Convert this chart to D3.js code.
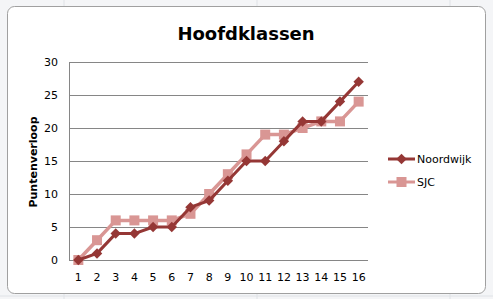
<!DOCTYPE html>
<html><head><meta charset="utf-8">
<script src="https://cdn.jsdelivr.net/npm/d3@7"></script>
<style>body{margin:0;background:#eceef1;}svg{display:block;}</style>
</head><body>
<svg id="c" width="493" height="299"></svg>
<script>
const categories = ["1","2","3","4","5","6","7","8","9","10","11","12","13","14","15","16"];
const noordwijk = [0,1,4,4,5,5,8,9,12,15,15,18,21,21,24,27];
const sjc = [0,3,6,6,6,6,7,10,13,16,19,19,20,21,21,24];
const yTicks = [0,5,10,15,20,25,30];
const seriesNames = ["Noordwijk","SJC"];
const colors = ["#953735","#d99694"];

const svg = d3.select("#c");
// sheet background grid
const bg = svg.append("g");
bg.append("rect").attr("width",493).attr("height",299).attr("fill","#f4f5f7");
[64,257,450].forEach(x=>bg.append("line").attr("x1",x).attr("x2",x).attr("y1",0).attr("y2",299).attr("stroke","#dfe2e6"));
bg.append("line").attr("x1",0).attr("x2",493).attr("y1",296).attr("y2",296).attr("stroke","#dfe2e6");
// chart area
svg.append("rect").attr("x",7.5).attr("y",6.5).attr("width",478).attr("height",287)
  .attr("rx",7).attr("fill","#fff").attr("stroke","#a0a0a0").attr("stroke-width",1);

const L=69, R=368, T=62, B=260;
const x = d3.scaleBand().domain(categories).range([L,R]);
const y = d3.scaleLinear().domain([0,30]).range([B,T]);

// gridlines
svg.append("g").selectAll("line").data(yTicks).join("line")
  .attr("x1",L).attr("x2",R).attr("y1",d=>Math.round(y(d))+0.5).attr("y2",d=>Math.round(y(d))+0.5)
  .attr("stroke","#868686").attr("stroke-width",1);
svg.append("line").attr("x1",L+0.5).attr("x2",L+0.5).attr("y1",T).attr("y2",B+0.5).attr("stroke","#868686");

// y axis labels
const yAxis = d3.axisLeft(y).tickValues(yTicks).tickSize(0).tickPadding(11);
const gy = svg.append("g").attr("transform",`translate(${L},0)`).call(yAxis);
gy.select(".domain").remove();
gy.selectAll("text").attr("font-family","DejaVu Sans, sans-serif").attr("font-size",11).attr("fill","#000");

const xAxis = d3.axisBottom(x).tickSize(0).tickPadding(13);
const gx = svg.append("g").attr("transform",`translate(0,${B})`).call(xAxis);
gx.select(".domain").remove();
gx.selectAll("text").attr("font-family","DejaVu Sans, sans-serif").attr("font-size",11).attr("fill","#000");

// title
svg.append("text").attr("x",246).attr("y",40).attr("text-anchor","middle")
  .attr("font-family","DejaVu Sans, sans-serif").attr("font-weight","bold").attr("font-size",18)
  .text("Hoofdklassen");
svg.append("text").attr("transform","translate(37,162) rotate(-90)").attr("text-anchor","middle")
  .attr("font-family","DejaVu Sans, sans-serif").attr("font-weight","bold").attr("font-size",11)
  .text("Puntenverloop");

const cx = d => x(d)+x.bandwidth()/2;
const line = d3.line().x((d,i)=>cx(categories[i])).y(d=>y(d));

// SJC first (behind)
svg.append("path").datum(sjc).attr("d",line).attr("fill","none").attr("stroke",colors[1]).attr("stroke-width",3.5).attr("stroke-linejoin","round");
svg.append("g").selectAll("rect").data(sjc).join("rect")
  .attr("x",(d,i)=>cx(categories[i])-5).attr("y",d=>y(d)-5).attr("width",10).attr("height",10)
  .attr("fill",colors[1]);

svg.append("path").datum(noordwijk).attr("d",line).attr("fill","none").attr("stroke",colors[0]).attr("stroke-width",3).attr("stroke-linejoin","round");
const diamond = d3.symbol().type(d3.symbolDiamond2).size(70);
svg.append("g").selectAll("path").data(noordwijk).join("path")
  .attr("transform",(d,i)=>`translate(${cx(categories[i])},${y(d)})`).attr("d",diamond).attr("fill",colors[0]);

// legend
const leg = svg.append("g");
const ly = [159,182];
seriesNames.forEach((n,i)=>{
  leg.append("line").attr("x1",388).attr("x2",415).attr("y1",ly[i]).attr("y2",ly[i]).attr("stroke",colors[i]).attr("stroke-width",3);
  if(i===0) leg.append("path").attr("transform",`translate(401.5,${ly[i]})`).attr("d",diamond).attr("fill",colors[i]);
  else leg.append("rect").attr("x",396.5).attr("y",ly[i]-5).attr("width",10).attr("height",10).attr("fill",colors[i]);
  leg.append("text").attr("x",417).attr("y",ly[i]+4).attr("font-family","DejaVu Sans, sans-serif").attr("font-size",11).text(n);
});
</script>
</body></html>
